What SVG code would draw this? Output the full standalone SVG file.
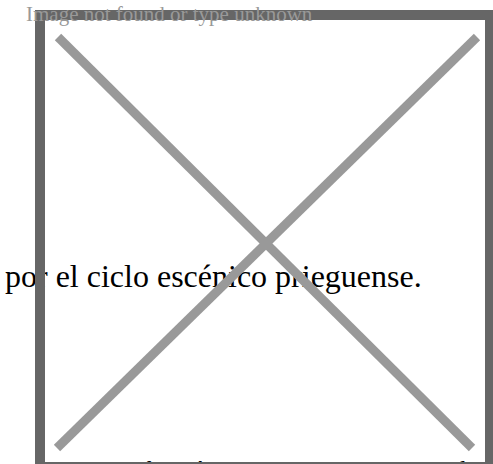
<svg xmlns="http://www.w3.org/2000/svg" width="493" height="464" viewBox="0 0 493 464">
<style>
.body{font-family:"Liberation Serif","Times New Roman",serif;fill:#000}
.alt{font-family:"Liberation Serif","Times New Roman",serif;fill:#999;font-size:21px}
.x{stroke:#999;stroke-width:9;fill:none}
</style>
<rect width="493" height="464" fill="#fff"/>
<g id="paragraph">
<text class="body" x="5" y="287" font-size="32">por el ciclo escénico prieguense.</text>
<text class="body" x="143" y="477" font-size="24">función</text>
<text class="body" x="454" y="477" font-size="24">d</text>
</g>
<g id="broken-image">
<rect x="40" y="15" width="450" height="452" fill="none" stroke="#666" stroke-width="10"/>
<line class="x" x1="58" y1="37" x2="472" y2="448"/>
<line class="x" x1="477" y1="37" x2="57" y2="448"/>
<text class="alt" x="26" y="21">Image not found or type unknown</text>
</g>
</svg>
